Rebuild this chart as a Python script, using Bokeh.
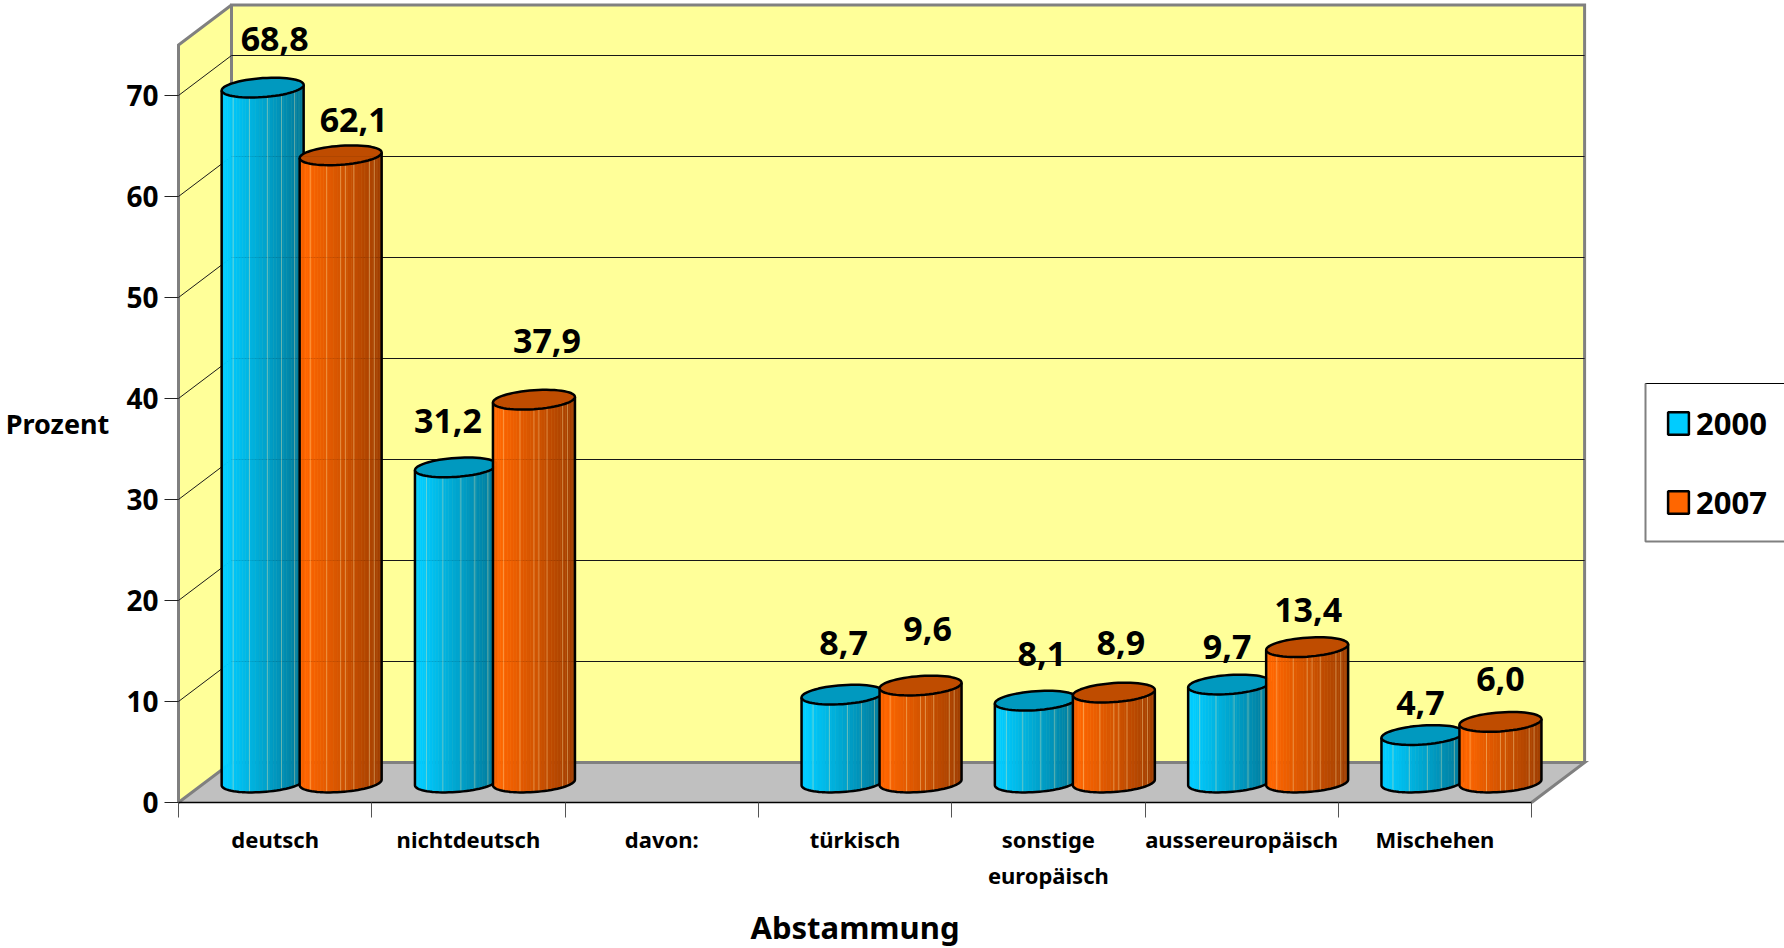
import math
from bokeh.plotting import figure
from bokeh.models import Range1d, LinearAxis, FixedTicker, Legend, LegendItem
from bokeh.embed import file_html
from bokeh.resources import INLINE
from bokeh.core.properties import value

categories = ["deutsch", "nichtdeutsch", "davon:", "türkisch", "sonstige\neuropäisch", "aussereuropäisch", "Mischehen"]
series_2000 = [68.8, 31.2, None, 8.7, 8.1, 9.7, 4.7]
series_2007 = [62.1, 37.9, None, 9.6, 8.9, 13.4, 6.0]
y_ticks = [0, 10, 20, 30, 40, 50, 60, 70]
x_title = "Abstammung"
y_title = "Prozent"
legend_labels = ["2000", "2007"]

# label nudges (px) relative to the top of each cylinder
nudge_2000 = [(12, -49), (-8, -46), None, (1, -52), (6, -47), (-2, -38), (-2, -32)]
nudge_2007 = [(13, -35), (13, -59), None, (7, -57), (7, -50), (1, -37), (0, -43)]
seams_2000 = [.14, .34, .56, .73, .89]
seams_2007 = [.13, .33, .50, .56, .66, .85, .91]

W, H = 1784, 948
X0, Y0 = 178.0, 802.0      # screen position of the axes origin
CAT_PX, UNIT_PX = 193.3, 10.1
DEPTH_X, DEPTH_Y = 53.0, 40.0
Y_TOP = 75.0
FONT = "Noto Sans"
WALL, FLOOR, EDGE = "#FFFF99", "#C0C0C0", "#808080"


def xpx(d):
    return d / CAT_PX


def ypx(d):
    return d / UNIT_PX


def sx(px):
    return (px - X0) / CAT_PX


def sy(py):
    return (Y0 - py) / UNIT_PX


def project(x, y, depth):
    """Data position on the front plane plus a fractional depth."""
    return x + xpx(DEPTH_X) * depth, y + ypx(DEPTH_Y) * depth


p = figure(width=W, height=H, output_backend="svg", toolbar_location=None,
           x_range=Range1d(sx(0), sx(W)), y_range=Range1d(sy(H), sy(0)),
           min_border=0, min_border_left=0, min_border_right=0, min_border_top=0, min_border_bottom=0,
           x_axis_type=None, y_axis_type=None, outline_line_color=None,
           background_fill_color="white")
p.xgrid.visible = False
p.ygrid.visible = False
n = len(categories)

# walls + floor
lw = [project(0, 0, 0), project(0, 0, 1), project(0, Y_TOP, 1), project(0, Y_TOP, 0)]
bw = [project(0, 0, 1), project(n, 0, 1), project(n, Y_TOP, 1), project(0, Y_TOP, 1)]
fl = [project(0, 0, 0), project(0, 0, 1), project(n, 0, 1), project(n, 0, 0)]
for poly, col in ((lw, WALL), (bw, WALL), (fl, FLOOR)):
    p.patch([q[0] for q in poly], [q[1] for q in poly], fill_color=col, line_color=None)

# wall edges
edges = [[lw[0], lw[3], lw[2]], [lw[1], lw[2], bw[2], bw[1]], [fl[0], fl[1], fl[2], fl[3]]]
p.multi_line([[q[0] for q in e] for e in edges], [[q[1] for q in e] for e in edges],
             line_color=EDGE, line_width=3, line_join="miter")

# gridlines
gx, gy = [], []
for t in y_ticks[1:]:
    a, b, c = project(0, t, 0), project(0, t, 1), project(n, t, 1)
    gx.append([a[0], b[0], c[0]])
    gy.append([a[1], b[1], c[1]])
p.multi_line(gx, gy, line_color="#1a1a1a", line_width=1)

# cylinders
A = xpx(41)
B = ypx(9.5)
TILT = ypx(2.8)
SPACING = 78 / CAT_PX


def mix(c0, c1, f):
    return tuple(round(c0[i] + (c1[i] - c0[i]) * f) for i in range(3))


def hx(c):
    return "#%02x%02x%02x" % tuple(min(255, max(0, v)) for v in c)


def rim(t):
    return TILT * math.cos(t) - B * math.sin(t)


def cylinder(cx, base, top, c_left, c_right, c_top, seam_at):
    steps = 36
    angs = [math.pi - math.pi * k / steps for k in range(steps + 1)]
    xs, ys, fills = [], [], []
    for k in range(steps):
        x0, x1 = cx + A * math.cos(angs[k]), cx + A * math.cos(angs[k + 1])
        y0, y1 = rim(angs[k]), rim(angs[k + 1])
        xs.append([x0, x1, x1, x0])
        ys.append([base + y0, base + y1, top + y1, top + y0])
        f = max(0.0, ((x0 + x1) / 2 - (cx - A)) / (2 * A) - 0.08) / 0.92
        fills.append(hx(mix(c_left, c_right, f)))
    p.patches(xs, ys, fill_color=fills, line_color=fills, line_width=0.6)
    # pale seams
    sxs, sys = [], []
    for f in seam_at:
        t = math.acos(2 * f - 1)
        sxs.append([cx + A * math.cos(t)] * 2)
        sys.append([base + rim(t), top + rim(t)])
    p.multi_line(sxs, sys, line_color="#FFE9A8", line_width=1, line_alpha=0.4)
    # outline of the body
    arc_x = [cx + A * math.cos(t) for t in angs]
    arc_y = [base + rim(t) for t in angs]
    p.line([arc_x[0]] + arc_x + [arc_x[-1]],
           [top + rim(angs[0])] + arc_y + [top + rim(angs[-1])],
           line_color="black", line_width=2.5, line_join="round")
    # lid
    ring = [2 * math.pi * k / 60 for k in range(60)]
    p.patch([cx + A * math.cos(t) for t in ring],
            [top + rim(t) for t in ring],
            fill_color=c_top, line_color="black", line_width=2.5)


BLUE = ((0, 204, 255), (0, 120, 152), "#0099BF", seams_2000)
ORANGE = ((255, 102, 0), (160, 62, 0), "#BF4C00", seams_2007)
bx = []
for vals, pal, nudges, off in ((series_2000, BLUE, nudge_2000, -SPACING / 2),
                               (series_2007, ORANGE, nudge_2007, SPACING / 2)):
    lx, ly, lt = [], [], []
    for i, v in enumerate(vals):
        if v is None:
            continue
        cx, base = project(i + 0.5 + off, 0, 0.5)
        cylinder(cx, base, base + v, *pal)
        lx.append(cx + xpx(nudges[i][0]))
        ly.append(base + v - ypx(nudges[i][1]))
        lt.append(f"{v:.1f}".replace(".", ","))
    bx.append((lx, ly, lt))

# faint gridlines seen through the bars
p.multi_line([g[1:] for g in gx], [g[1:] for g in gy], line_color="black", line_width=1, line_alpha=0.08)

for lx, ly, lt in bx:
    p.text(lx, ly, text=lt, text_font=value(FONT), text_font_style="bold", text_font_size="34px",
           text_align="center", text_baseline="middle", text_color="black")

# axes
yax = LinearAxis(fixed_location=0, bounds=(0, 70), ticker=FixedTicker(ticks=y_ticks),
                 major_tick_in=0, major_tick_out=14, minor_tick_out=0, minor_tick_in=0,
                 major_tick_line_color="#222222", major_tick_line_width=1,
                 axis_line_color=None, major_label_standoff=6,
                 major_label_text_font=FONT, major_label_text_font_style="bold",
                 major_label_text_font_size="28px", major_label_text_color="black")
p.add_layout(yax, "left")

xax = LinearAxis(fixed_location=0, bounds=(0, n), ticker=FixedTicker(ticks=list(range(n + 1))),
                 major_tick_in=0, major_tick_out=15, minor_tick_out=0, minor_tick_in=0,
                 major_tick_line_color="#555555", major_tick_line_width=1,
                 axis_line_color="black", axis_line_width=1.5,
                 major_label_text_font_size="0px", major_label_text_color=None)
p.add_layout(xax, "below")

cax = LinearAxis(fixed_location=0, bounds=(0, n), ticker=FixedTicker(ticks=[i + 0.5 for i in range(n)]),
                 major_label_overrides={i + 0.5: c for i, c in enumerate(categories)},
                 major_tick_in=0, major_tick_out=0, minor_tick_out=0, minor_tick_in=0,
                 axis_line_color=None, major_label_standoff=21,
                 major_label_text_font=FONT, major_label_text_font_style="bold",
                 major_label_text_font_size="22px", major_label_text_color="black",
                 axis_label=x_title, axis_label_standoff=13, axis_label_text_font=FONT,
                 axis_label_text_font_style="bold", axis_label_text_font_size="31px",
                 axis_label_text_color="black")
p.add_layout(cax, "below")

p.text([sx(57)], [sy(423)], text=[y_title], text_font=value(FONT), text_font_style="bold",
       text_font_size="27px", text_align="center", text_baseline="middle", text_color="black")

# legend
nan = float("nan")
p.quad(left=[sx(1645)], right=[sx(1800)], top=[sy(383)], bottom=[sy(541)],
       fill_color="white", line_color="black", line_width=1)
p.multi_line([[sx(1645), sx(1645), sx(1800)]], [[sy(383), sy(541), sy(541)]],
             line_color=EDGE, line_width=2)
r0 = p.quad(left=[nan], right=[nan], top=[nan], bottom=[nan], fill_color="#00CCFF", line_color="black", line_width=2.5)
r1 = p.quad(left=[nan], right=[nan], top=[nan], bottom=[nan], fill_color="#FF6600", line_color="black", line_width=2.5)
leg = Legend(items=[LegendItem(label=legend_labels[0], renderers=[r0]),
                    LegendItem(label=legend_labels[1], renderers=[r1])],
             location=(1665, 425), padding=0, margin=0, spacing=37,
             glyph_width=26, glyph_height=28, label_standoff=5,
             label_text_font=FONT, label_text_font_style="bold", label_text_font_size="31px",
             label_text_color="black", border_line_color=None, background_fill_alpha=0)
p.add_layout(leg, "center")

open("out.html", "w").write(file_html(p, INLINE))
